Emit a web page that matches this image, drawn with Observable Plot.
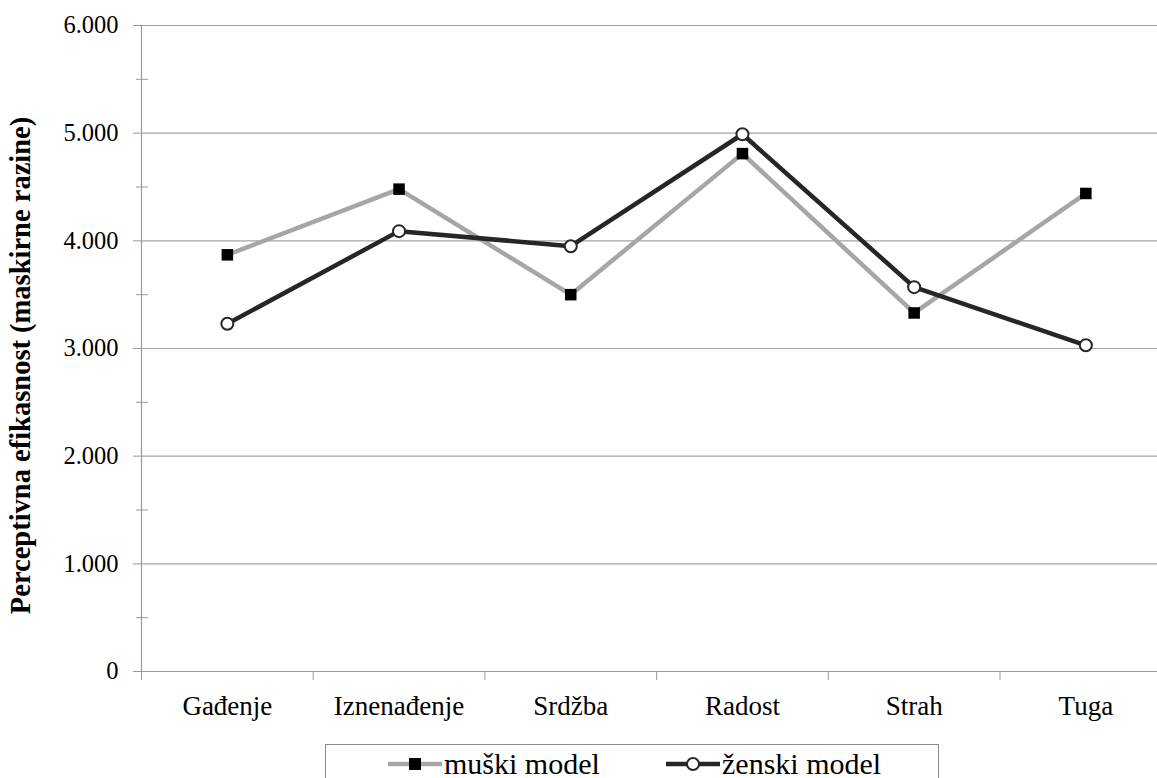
<!DOCTYPE html>
<html>
<head>
<meta charset="utf-8">
<script src="https://cdn.jsdelivr.net/npm/d3@7"></script>
<script src="https://cdn.jsdelivr.net/npm/@observablehq/plot@0.6"></script>
<style>
  html, body { margin: 0; padding: 0; background: #fff; overflow: hidden; }
  #wrap { position: relative; width: 1157px; height: 778px; }
  #legend { position: absolute; left: 325px; top: 744px; width: 614px; height: 60px;
            border: 1px solid #8c8c8c; box-sizing: border-box; background: #fff;
            font-family: "Liberation Serif", "Times New Roman", serif; font-size: 30px; color: #000; }
  .item { position: absolute; top: 0; height: 38px; display: flex; align-items: center; white-space: nowrap; }
  .item svg { display: block; }
</style>
</head>
<body>
<div id="wrap"><div id="chart"></div><div id="legend"></div></div>
<script>
const categories = ["Gađenje", "Iznenađenje", "Srdžba", "Radost", "Strah", "Tuga"];
const muski = [3.87, 4.48, 3.50, 4.81, 3.33, 4.44];
const zenski = [3.23, 4.09, 3.95, 4.99, 3.57, 3.03];
const seriesNames = ["muški model", "ženski model"];
const yTicks = [0, 1, 2, 3, 4, 5, 6];
const yTickLabels = ["0", "1.000", "2.000", "3.000", "4.000", "5.000", "6.000"];
const yMinorTicks = [0.5, 1.5, 2.5, 3.5, 4.5, 5.5];
const yTitle = "Perceptivna efikasnost (maskirne razine)";
const boundaries = d3.range(categories.length + 1);

const colors = { line1: "#a6a6a6", line2: "#262626", grid: "#a3a3a3", axis: "#9a9a9a" };

const rowsM = categories.map((c, i) => ({ cat: c, pos: i + 0.5, value: muski[i], series: seriesNames[0] }));
const rowsZ = categories.map((c, i) => ({ cat: c, pos: i + 0.5, value: zenski[i], series: seriesNames[1] }));

const chart = Plot.plot({
  width: 1157,
  height: 744,
  marginLeft: 141,
  marginRight: 0,
  marginTop: 25,
  marginBottom: 73,
  style: { fontFamily: "Liberation Serif, Times New Roman, serif", background: "#fff", color: "#000" },
  x: { type: "linear", domain: [0, categories.length], range: [141, 141 + 171.7 * categories.length] },
  y: { domain: [0, 6] },
  marks: [
    Plot.ruleY(yTicks.slice(1), { stroke: colors.grid, strokeWidth: 1.2 }),
    Plot.axisY({ ticks: yMinorTicks, tickSize: 12, dx: 7, tickFormat: () => "", stroke: colors.axis, label: null }),
    Plot.axisY({ ticks: yTicks, tickSize: 8, tickPadding: 15, tickFormat: d => yTickLabels[yTicks.indexOf(d)],
                 fontSize: 24.5, stroke: colors.axis, fill: "#000", label: null }),
    Plot.axisX({ ticks: boundaries, tickSize: 9, tickFormat: () => "", stroke: colors.axis, label: null }),
    Plot.ruleX([0], { stroke: colors.axis, strokeWidth: 1.2 }),
    Plot.ruleY([0], { stroke: colors.axis, strokeWidth: 1.2 }),
    Plot.text(categories, { x: (d, i) => i + 0.5, y: 0, dy: 35, fontSize: 27, fill: "#000" }),
    Plot.text([yTitle], { frameAnchor: "left", textAnchor: "middle", dx: -121, dy: 17, rotate: -90,
                          fontSize: 28.5, fontWeight: "bold", fill: "#000" }),
    Plot.line(rowsM, { x: "pos", y: "value", stroke: colors.line1, strokeWidth: 4.5 }),
    Plot.dot(rowsM, { x: "pos", y: "value", symbol: "square", r: 6.5, fill: "#000", stroke: "none" }),
    Plot.line(rowsZ, { x: "pos", y: "value", stroke: colors.line2, strokeWidth: 4.5 }),
    Plot.dot(rowsZ, { x: "pos", y: "value", symbol: "circle", r: 6, fill: "#fff", stroke: colors.line2, strokeWidth: 2 })
  ]
});
document.getElementById("chart").appendChild(chart);

// Legend
const legend = document.getElementById("legend");
const items = [
  { name: seriesNames[0], left: 62, color: colors.line1, marker: "square" },
  { name: seriesNames[1], left: 340, color: colors.line2, marker: "circle" }
];
items.forEach(it => {
  const div = document.createElement("div");
  div.className = "item";
  div.style.left = it.left + "px";
  const w = 54, h = 20;
  const m = it.marker === "square"
    ? `<rect x="${w/2 - 6}" y="${h/2 - 6}" width="12" height="12" fill="#000"/>`
    : `<circle cx="${w/2}" cy="${h/2}" r="6" fill="#fff" stroke="${it.color}" stroke-width="2"/>`;
  div.innerHTML = `<svg width="${w}" height="${h}"><line x1="0" x2="${w}" y1="${h/2}" y2="${h/2}" stroke="${it.color}" stroke-width="4.5"/>${m}</svg><span style="margin-left:2px">${it.name}</span>`;
  legend.appendChild(div);
});
</script>
</body>
</html>
